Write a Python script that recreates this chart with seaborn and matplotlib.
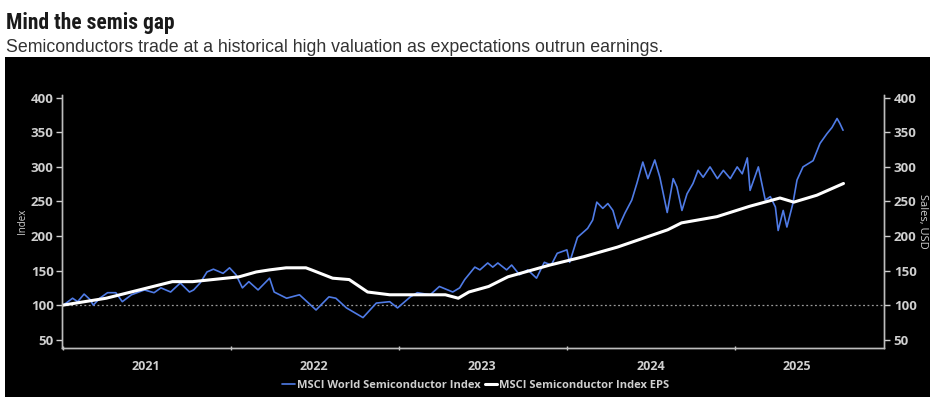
import matplotlib
matplotlib.use("Agg")
import matplotlib.pyplot as plt
from matplotlib.patches import Rectangle
from matplotlib import font_manager
import seaborn as sns
import pandas as pd

# Данные
index_dates = [
    "2021-01-01", "2021-01-08", "2021-01-22", "2021-02-02", "2021-02-16", "2021-03-01",
    "2021-03-08", "2021-03-22", "2021-04-08", "2021-04-26", "2021-05-10", "2021-05-30",
    "2021-06-27", "2021-07-18", "2021-08-02", "2021-08-23", "2021-09-13", "2021-10-03",
    "2021-10-12", "2021-10-26", "2021-11-10", "2021-11-24", "2021-12-15", "2021-12-29",
    "2022-01-12", "2022-01-26", "2022-02-09", "2022-03-01", "2022-03-26", "2022-04-05",
    "2022-05-02", "2022-05-30", "2022-07-05", "2022-08-02", "2022-08-17", "2022-09-09",
    "2022-10-15", "2022-11-13", "2022-12-12", "2022-12-29", "2023-01-26", "2023-02-10",
    "2023-03-10", "2023-03-30", "2023-04-28", "2023-05-13", "2023-05-24", "2023-06-15",
    "2023-06-26", "2023-07-13", "2023-07-24", "2023-08-04", "2023-08-23", "2023-09-03",
    "2023-09-20", "2023-10-08", "2023-10-27", "2023-11-13", "2023-11-28", "2023-12-11",
    "2024-01-01", "2024-01-07", "2024-01-24", "2024-02-15", "2024-02-26", "2024-03-06",
    "2024-03-19", "2024-03-30", "2024-04-10", "2024-04-21", "2024-05-06", "2024-05-21",
    "2024-06-01", "2024-06-14", "2024-06-25", "2024-07-10", "2024-07-21", "2024-08-06",
    "2024-08-19", "2024-08-27", "2024-09-07", "2024-09-18", "2024-10-01", "2024-10-12",
    "2024-10-23", "2024-11-07", "2024-11-23", "2024-12-06", "2024-12-21", "2025-01-05",
    "2025-01-16", "2025-01-27", "2025-02-02", "2025-02-20", "2025-03-07", "2025-03-18",
    "2025-03-29", "2025-04-04", "2025-04-15", "2025-04-23", "2025-05-06", "2025-05-15",
    "2025-05-28", "2025-06-19", "2025-07-04", "2025-07-19", "2025-07-30", "2025-08-10",
    "2025-08-16", "2025-08-23",
]
index_values = [
    100, 103, 110, 105, 116, 108,
    100, 110, 118, 118, 105, 115,
    122, 118, 125, 119, 132, 119,
    122, 132, 148, 152, 146, 154,
    144, 125, 134, 122, 139, 119,
    110, 115, 93, 112, 110, 96,
    82, 103, 105, 96, 112, 118,
    115, 127, 119, 125, 137, 155,
    151, 161, 155, 161, 151, 158,
    144, 151, 139, 162, 158, 175,
    180, 162, 198, 211, 223, 249,
    240, 247, 237, 211, 233, 252,
    276, 307, 283, 310, 285, 234,
    283, 271, 237, 261, 276, 295,
    285, 300, 283, 295, 283, 300,
    290, 313, 266, 300, 252, 257,
    242, 208, 237, 213, 247, 281,
    300, 309, 334, 348, 357, 370,
    363, 353,
]

eps_dates = [
    "2021-01-01", "2021-04-05", "2021-08-27", "2021-10-10", "2022-01-19", "2022-02-25",
    "2022-03-26", "2022-05-01", "2022-06-13", "2022-06-25", "2022-08-10", "2022-09-15",
    "2022-10-25", "2022-12-12", "2023-02-10", "2023-04-12", "2023-05-10", "2023-06-02",
    "2023-07-15", "2023-08-26", "2023-11-25", "2024-02-06", "2024-04-20", "2024-08-07",
    "2024-09-06", "2024-11-22", "2025-02-01", "2025-04-08", "2025-05-08", "2025-06-27",
    "2025-08-24",
]
eps_values = [
    100, 110, 134, 134, 141, 148,
    151, 154, 154, 151, 139, 137,
    119, 115, 115, 115, 110, 119,
    127, 141, 158, 170, 184, 209,
    219, 228, 243, 255, 249, 259,
    276,
]

year_ticks = ["2021-01-01", "2022-01-01", "2023-01-01", "2024-01-01", "2025-01-01"]
label_pos = ["2021-07-01", "2022-07-01", "2023-07-01", "2024-07-01", "2025-05-15"]
year_labels = ["2021", "2022", "2023", "2024", "2025"]
y_ticks = [50, 100, 150, 200, 250, 300, 350, 400]

df_idx = pd.DataFrame({"date": pd.to_datetime(index_dates), "value": index_values})
df_eps = pd.DataFrame({"date": pd.to_datetime(eps_dates), "value": eps_values})

sns.set_theme(style="dark")
plt.rcParams["font.family"] = ["Open Sans", "DejaVu Sans"]

# узкий шрифт для заголовка, если найдётся
installed = {f.name for f in font_manager.fontManager.ttflist}
narrow = [n for n in ("Roboto Condensed", "Noto Sans Condensed", "DejaVu Sans Condensed",
                      "Liberation Sans Narrow") if n in installed]

fig = plt.figure(figsize=(9.35, 3.97), dpi=100, facecolor="white")
fig.patches.append(Rectangle((5 / 935, 0), 925 / 935, 340 / 397,
                             transform=fig.transFigure, facecolor="black",
                             edgecolor="none", zorder=-10))

ax = fig.add_axes([62 / 935, 1 - 348 / 397, 822 / 935, 253 / 397])
ax.set_facecolor("black")
ax.set_zorder(2)

blue = "#4f7be6"
sns.lineplot(data=df_idx, x="date", y="value", ax=ax, color=blue, linewidth=1.2,
             label="MSCI World Semiconductor Index", zorder=3)
sns.lineplot(data=df_eps, x="date", y="value", ax=ax, color="white", linewidth=2.2,
             label="MSCI Semiconductor Index EPS", zorder=4)
ax.axhline(100, color="#9a9a9a", linewidth=0.9, linestyle=(0, (1.5, 2)), zorder=1)

ax.set_xlim(pd.Timestamp("2020-12-30"), pd.Timestamp("2025-11-20"))
ax.set_ylim(38, 404)

grey = "#cfcfcf"
ax.set_xticks(pd.to_datetime(year_ticks))
ax.set_xticklabels([])
ax.set_xticks(pd.to_datetime(label_pos), minor=True)
ax.set_xticklabels(year_labels, minor=True)
ax.tick_params(axis="x", which="major", length=3, width=1, color=grey, direction="inout",
               bottom=True)
ax.tick_params(axis="x", which="minor", length=0, pad=9, labelsize=9, labelcolor=grey)
for t in ax.get_xticklabels(minor=True):
    t.set_fontweight("bold")

ax.set_yticks(y_ticks)
ax.tick_params(axis="y", length=4, width=1, color=grey, labelsize=9.5,
               labelcolor=grey, pad=2, left=True)
for t in ax.get_yticklabels():
    t.set_fontweight("bold")
ax.set_xlabel("")
ax.set_ylabel("Index", color=grey, fontsize=7, labelpad=2)

ax2 = ax.twinx()
ax2.set_ylim(ax.get_ylim())
ax2.set_yticks(y_ticks)
ax2.tick_params(axis="y", length=4, width=1, color=grey, labelsize=9.5,
                labelcolor=grey, pad=3, right=True)
for t in ax2.get_yticklabels():
    t.set_fontweight("bold")
ax2.set_ylabel("Sales, USD", color=grey, fontsize=8, rotation=270, labelpad=8)

for a in (ax, ax2):
    a.grid(False)
    a.spines["top"].set_visible(False)
    for s in ("left", "right", "bottom"):
        a.spines[s].set_color("#bdbdbd")
        a.spines[s].set_linewidth(1)

handles, labels = ax.get_legend_handles_labels()
ax.get_legend().remove()
leg = fig.legend(handles, labels, loc="center", bbox_to_anchor=(0.509, 0.03),
                 ncol=2, frameon=False, handlelength=1.1, handletextpad=0.2,
                 columnspacing=0.4, fontsize=8)
for t in leg.get_texts():
    t.set_color(grey)
    t.set_fontweight("bold")

title_size = 15.5 if narrow else 12
fig.text(0.006, 1 - 29 / 397, "Mind the semis gap", fontsize=title_size, fontweight="bold",
         family=narrow[:1] + ["DejaVu Sans"], color="#1a1a1a", va="baseline")
fig.text(0.006, 1 - 51.5 / 397,
         "Semiconductors trade at a historical high valuation as expectations outrun earnings.",
         fontsize=12.8, family=["Liberation Sans", "DejaVu Sans"], color="#333333",
         va="baseline")

fig.savefig("out.png", dpi=100, facecolor="white")
